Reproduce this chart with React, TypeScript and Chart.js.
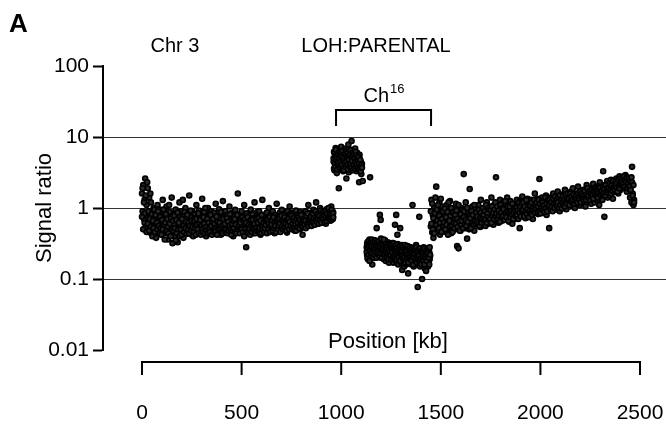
import React, { useEffect, useRef } from "react";
import { Chart, registerables } from "chart.js";
Chart.register(...registerables);

const FONT = '"Liberation Sans", Arial, Helvetica, sans-serif';

const yTickValues = [0.01, 0.1, 1, 10, 100];
const yTickLabels = ["0.01", "0.1", "1", "10", "100"];
const yGridValues = [0.1, 1, 10];
const xTickValues = [0, 500, 1000, 1500, 2000, 2500];
const xTickLabels = ["0", "500", "1000", "1500", "2000", "2500"];
const bracketRange = [974, 1451];

// Segment 1: 0 - 960 kb (two probe sets per position)
const seg1Pos = [
  0,3,6,10,13,16,19,23,26,29,
  32,36,39,42,45,49,52,55,58,62,
  65,68,71,75,78,81,84,88,91,94,
  97,101,104,107,110,114,117,120,123,127,
  130,133,136,140,143,146,149,153,156,159,
  162,166,169,172,175,179,182,185,188,192,
  195,198,201,205,208,211,214,218,221,224,
  227,231,234,237,240,244,247,250,253,257,
  260,263,266,270,273,276,279,283,286,289,
  292,296,299,302,305,309,312,315,318,322,
  325,328,331,335,338,341,344,348,351,354,
  357,361,364,367,370,374,377,380,383,387,
  390,393,396,400,403,406,409,413,416,419,
  422,426,429,432,435,439,442,445,448,452,
  455,458,461,465,468,471,474,478,481,484,
  487,491,494,497,500,504,507,510,513,517,
  520,523,526,530,533,536,539,543,546,549,
  552,556,559,562,565,569,572,575,578,582,
  585,588,591,595,598,601,604,608,611,614,
  617,621,624,627,630,634,637,640,643,647,
  650,653,656,660,663,666,669,673,676,679,
  682,686,689,692,695,699,702,705,708,712,
  715,718,721,725,728,731,734,738,741,744,
  747,751,754,757,760,764,767,770,773,777,
  780,783,786,790,793,796,799,803,806,809,
  812,816,819,822,825,829,832,835,838,842,
  845,848,851,855,858,861,864,868,871,874,
  877,881,884,887,890,894,897,900,903,907,
  910,913,916,920,923,926,929,933,936,939,
  942,944,946,948,950,952,954,956,958,960,
];
const seg1ValA = [
  1.6,0.9,2.1,0.7,1.3,2.6,0.55,1.1,0.8,1.9,
  0.6,1.4,0.45,0.75,1.2,0.5,0.9,0.65,1.0,0.42,
  0.7,0.55,0.85,0.6,1.1,0.5,0.72,0.95,0.48,0.66,
  0.8,0.58,1.3,0.62,0.44,0.9,0.7,0.52,1.05,0.6,
  0.36,0.75,0.5,0.88,0.65,0.46,1.4,0.7,0.55,0.82,
  0.6,0.4,0.95,0.52,0.7,0.33,0.8,0.58,1.2,0.47,
  0.68,0.9,0.5,0.62,0.38,0.78,0.55,1.0,0.45,0.72,
  0.6,0.85,0.48,1.5,0.66,0.52,0.74,0.42,0.9,0.58,
  0.7,0.5,0.82,0.62,1.1,0.46,0.76,0.55,0.92,0.64,
  0.5,0.8,0.6,1.35,0.7,0.45,0.88,0.56,0.68,0.4,
  0.75,0.58,1.0,0.5,0.82,0.64,0.47,0.9,0.6,0.72,
  0.55,0.86,0.44,0.7,1.15,0.6,0.5,0.78,0.66,0.96,
  0.52,0.7,0.42,0.84,0.6,1.25,0.56,0.74,0.48,0.9,
  0.65,0.5,0.8,0.58,0.72,1.05,0.46,0.68,0.55,0.86,
  0.62,0.4,0.76,0.52,0.94,0.6,0.7,0.48,1.6,0.64,
  0.8,0.55,0.68,0.45,0.9,0.6,0.74,0.5,1.1,0.58,
  0.7,0.28,0.84,0.56,0.66,0.46,0.78,0.62,0.95,0.52,
  0.6,0.82,0.44,0.7,1.2,0.56,0.74,0.5,0.88,0.64,
  0.54,0.9,0.62,0.42,0.76,0.58,1.3,0.66,0.5,0.8,
  0.6,0.72,0.46,0.86,0.56,0.68,1.0,0.52,0.78,0.62,
  0.7,0.5,0.9,0.58,0.66,0.44,0.8,0.6,1.15,0.55,
  0.74,0.62,0.48,0.86,0.68,0.56,0.94,0.6,0.72,0.5,
  0.66,0.82,0.55,0.7,0.45,0.9,0.62,0.76,1.05,0.58,
  0.7,0.52,0.86,0.64,0.6,0.78,0.48,0.72,0.92,0.56,
  0.68,0.8,0.58,0.74,0.5,0.88,0.64,0.7,0.42,0.82,
  0.62,0.76,0.54,0.9,0.66,0.72,0.6,1.1,0.56,0.8,
  0.7,0.62,0.86,0.74,0.58,0.94,0.68,0.8,0.64,1.2,
  0.72,0.6,0.88,0.76,0.66,1.0,0.7,0.84,0.62,0.78,
  0.9,0.68,0.74,0.82,0.6,0.96,0.72,0.86,0.7,0.8,
  0.76,0.92,0.66,0.84,1.05,0.72,0.8,0.9,0.7,0.86,
];
const seg1ValB = [
  0.75,1.9,0.5,1.2,0.62,0.85,1.5,0.46,2.3,0.6,
  0.9,0.48,0.7,1.6,0.55,0.82,0.4,0.66,0.52,0.95,
  0.46,0.8,0.38,0.62,0.5,0.9,0.56,0.44,0.75,0.52,
  0.42,0.68,0.5,0.95,0.58,0.36,0.62,0.82,0.47,0.7,
  0.55,0.44,1.1,0.6,0.4,0.72,0.5,0.32,0.66,0.48,
  0.78,0.52,0.35,0.68,0.44,0.86,0.5,0.62,0.4,0.74,
  0.5,0.42,0.7,1.3,0.56,0.46,0.88,0.52,0.64,0.43,
  0.8,0.5,0.62,0.44,0.56,0.92,0.48,0.66,0.54,0.4,
  0.46,0.66,0.52,0.42,0.7,0.58,0.5,0.84,0.44,0.6,
  0.68,0.42,0.56,0.5,0.46,0.74,0.6,0.44,1.0,0.54,
  0.48,0.7,0.44,0.62,0.52,0.46,0.8,0.56,0.42,0.64,
  0.7,0.46,0.6,0.52,0.48,0.76,0.42,0.64,0.5,0.58,
  0.62,0.5,0.88,0.46,0.56,0.44,0.7,0.52,0.6,0.46,
  0.5,0.72,0.44,0.64,0.48,0.56,0.82,0.5,0.42,0.6,
  0.48,0.66,0.52,0.7,0.46,0.58,0.44,0.8,0.5,0.54,
  0.56,0.44,0.62,0.52,0.5,0.74,0.46,0.66,0.4,0.7,
  0.5,0.62,0.46,0.74,0.44,0.58,0.52,0.42,0.68,0.56,
  0.46,0.68,0.56,0.5,0.6,0.44,0.52,0.7,0.48,0.62,
  0.72,0.48,0.52,0.66,0.44,0.8,0.5,0.56,0.62,0.46,
  0.52,0.58,0.66,0.44,0.7,0.5,0.6,0.74,0.46,0.56,
  0.58,0.68,0.48,0.74,0.52,0.62,0.56,0.46,0.66,0.7,
  0.5,0.56,0.72,0.6,0.46,0.78,0.54,0.66,0.5,0.62,
  0.74,0.52,0.6,0.48,0.68,0.56,0.7,0.5,0.64,0.82,
  0.56,0.78,0.5,0.6,0.72,0.52,0.66,0.58,0.48,0.7,
  0.54,0.62,0.74,0.52,0.68,0.58,0.8,0.56,0.66,0.6,
  0.7,0.58,0.66,0.52,0.78,0.6,0.84,0.56,0.68,0.64,
  0.6,0.76,0.56,0.66,0.82,0.62,0.72,0.58,0.9,0.68,
  0.64,0.82,0.7,0.6,0.78,0.68,0.92,0.62,0.74,0.86,
  0.7,0.8,0.64,0.9,0.76,0.66,0.84,0.72,1.0,0.74,
  0.82,0.7,0.88,0.76,0.68,0.94,0.78,0.72,0.84,0.74,
];

// Segment 2: gained region ~960 - 1150 kb
const seg2Pos = [
  962,964,966,968,970,972,974,976,978,980,
  982,984,986,988,990,992,994,996,998,1000,
  1002,1004,1006,1008,1010,1012,1014,1016,1018,1020,
  1022,1024,1026,1028,1030,1032,1034,1036,1038,1040,
  1042,1044,1046,1048,1050,1052,1054,1056,1058,1060,
  1062,1064,1066,1068,1070,1072,1074,1076,1078,1080,
  1082,1084,1086,1088,1090,1092,1095,1098,1101,1104,
];
const seg2ValA = [
  4.5,6.2,3.4,5.1,3.9,7.0,4.2,5.6,3.1,4.8,
  6.6,3.7,5.3,1.9,4.4,6.0,3.5,5.0,4.1,7.3,
  3.8,5.5,4.6,6.4,3.3,4.9,5.8,4.0,6.8,3.6,
  5.2,4.3,2.6,6.1,3.9,5.7,4.7,7.8,3.2,5.4,
  4.5,6.5,3.7,5.0,4.2,8.8,3.4,5.9,4.0,6.3,
  4.8,3.6,5.5,4.4,6.9,3.8,5.1,4.6,3.3,6.0,
  4.1,5.3,3.5,4.9,2.3,5.6,3.9,4.5,3.0,4.2,
];
const seg2ValB = [
  5.0,3.6,6.0,4.2,5.4,3.8,6.6,4.7,5.2,3.5,
  4.3,5.8,4.0,5.1,6.2,3.7,5.5,4.4,6.0,3.9,
  5.3,4.1,6.3,3.6,5.0,4.6,3.4,5.7,4.3,5.9,
  3.8,6.4,4.5,5.2,4.0,6.1,3.5,5.4,4.8,6.7,
  3.9,5.6,4.2,6.5,3.7,5.1,4.6,6.0,3.4,5.3,
  4.0,5.8,3.6,5.0,4.4,6.2,3.8,5.5,4.1,4.9,
  3.6,4.6,5.2,3.8,4.3,3.5,4.8,3.3,4.0,3.7,
];
const seg2OutPos = [1108, 1145];
const seg2OutVal = [2.4, 2.7];

// Segment 3: loss region ~1128 - 1446 kb
const seg3Pos = [
  1128,1130,1132,1134,1136,1138,1140,1142,1144,1146,
  1148,1150,1152,1154,1156,1158,1160,1162,1164,1166,
  1168,1170,1172,1174,1176,1178,1180,1182,1184,1186,
  1188,1190,1192,1194,1196,1198,1200,1202,1204,1206,
  1208,1210,1212,1214,1216,1218,1220,1222,1224,1226,
  1228,1230,1232,1234,1236,1238,1240,1242,1244,1246,
  1248,1250,1252,1254,1256,1258,1260,1262,1264,1266,
  1268,1270,1272,1274,1276,1278,1280,1282,1284,1286,
  1288,1290,1292,1294,1296,1298,1300,1302,1304,1306,
  1308,1310,1312,1314,1316,1318,1320,1322,1324,1326,
  1328,1330,1332,1334,1336,1338,1340,1342,1344,1346,
  1348,1350,1352,1354,1356,1358,1360,1362,1364,1366,
  1368,1370,1372,1374,1376,1378,1380,1382,1384,1386,
  1388,1390,1392,1394,1396,1398,1400,1402,1404,1406,
  1408,1410,1412,1414,1416,1418,1420,1422,1424,1426,
  1428,1430,1432,1434,1436,1438,1440,1442,1444,1446,
];
const seg3ValA = [
  0.28,0.22,0.33,0.19,0.26,0.3,0.24,0.36,0.21,0.29,
  0.25,0.32,0.2,0.27,0.16,0.31,0.23,0.28,0.35,0.22,
  0.3,0.26,0.2,0.34,0.24,0.52,0.28,0.21,0.31,0.25,
  0.27,0.22,0.33,0.8,0.26,0.68,0.2,0.3,0.24,0.28,
  0.21,0.32,0.25,0.19,0.29,0.23,0.35,0.26,0.18,0.3,
  0.24,0.28,0.2,0.33,0.22,0.27,0.17,0.31,0.25,0.21,
  0.29,0.23,0.26,0.19,0.32,0.22,0.28,0.17,0.25,0.3,
  0.21,0.58,0.24,0.18,0.8,0.27,0.2,0.42,0.23,0.16,
  0.26,0.19,0.3,0.22,0.52,0.25,0.17,0.28,0.2,0.134,
  0.24,0.18,0.27,0.21,0.15,0.29,0.22,0.19,0.25,0.16,
  0.23,0.27,0.18,0.21,0.12,0.26,0.2,0.17,0.24,0.19,
  0.22,0.28,0.16,0.25,0.2,1.1,0.18,0.23,0.15,0.27,
  0.21,0.17,0.24,0.19,0.3,0.16,0.22,0.2,0.077,0.25,
  0.18,0.23,0.75,0.21,0.15,0.26,0.19,0.22,0.17,0.1,
  0.24,0.2,0.16,0.28,0.18,0.22,0.14,0.25,0.19,0.21,
  0.17,0.23,0.2,0.26,0.15,0.22,0.18,0.24,0.19,0.21,
];
const seg3ValB = [
  0.24,0.31,0.2,0.27,0.34,0.22,0.29,0.18,0.32,0.25,
  0.3,0.21,0.28,0.36,0.23,0.26,0.33,0.2,0.27,0.3,
  0.22,0.35,0.27,0.24,0.3,0.2,0.33,0.26,0.23,0.29,
  0.34,0.25,0.21,0.28,0.31,0.23,0.37,0.26,0.2,0.32,
  0.27,0.23,0.3,0.36,0.22,0.26,0.2,0.31,0.28,0.24,
  0.29,0.2,0.26,0.23,0.31,0.19,0.27,0.22,0.3,0.25,
  0.22,0.28,0.19,0.3,0.24,0.27,0.2,0.32,0.21,0.26,
  0.27,0.2,0.3,0.25,0.22,0.19,0.28,0.24,0.31,0.21,
  0.2,0.26,0.23,0.29,0.18,0.24,0.27,0.21,0.25,0.3,
  0.28,0.22,0.19,0.26,0.24,0.2,0.3,0.17,0.23,0.27,
  0.19,0.25,0.22,0.29,0.2,0.17,0.26,0.23,0.2,0.28,
  0.25,0.19,0.23,0.18,0.27,0.21,0.24,0.16,0.26,0.2,
  0.23,0.27,0.18,0.25,0.2,0.28,0.17,0.24,0.21,0.19,
  0.26,0.2,0.22,0.17,0.27,0.19,0.24,0.16,0.25,0.21,
  0.19,0.26,0.23,0.18,0.25,0.16,0.27,0.2,0.22,0.13,
  0.24,0.18,0.26,0.21,0.23,0.27,0.2,0.16,0.28,0.22,
];

// Segment 4: 1450 - 2470 kb
const seg4Pos = [
  1450,1453,1457,1460,1463,1467,1470,1473,1477,1480,
  1483,1486,1490,1493,1496,1500,1503,1506,1510,1513,
  1516,1519,1523,1526,1529,1533,1536,1539,1543,1546,
  1549,1552,1556,1559,1562,1566,1569,1572,1576,1579,
  1582,1585,1589,1592,1595,1599,1602,1605,1609,1612,
  1615,1618,1622,1625,1628,1632,1635,1638,1642,1645,
  1648,1651,1655,1658,1661,1665,1668,1671,1675,1678,
  1681,1684,1688,1691,1694,1698,1701,1704,1708,1711,
  1714,1717,1721,1724,1727,1731,1734,1737,1741,1744,
  1747,1750,1754,1757,1760,1764,1767,1770,1774,1777,
  1780,1783,1787,1790,1793,1797,1800,1803,1807,1810,
  1813,1816,1820,1823,1826,1830,1833,1836,1840,1843,
  1846,1849,1853,1856,1859,1863,1866,1869,1873,1876,
  1879,1882,1886,1889,1892,1896,1899,1902,1906,1909,
  1912,1915,1919,1922,1925,1929,1932,1935,1939,1942,
  1945,1948,1952,1955,1958,1962,1965,1968,1972,1975,
  1978,1981,1985,1988,1991,1995,1998,2001,2005,2008,
  2011,2014,2018,2021,2024,2028,2031,2034,2038,2041,
  2044,2047,2051,2054,2057,2061,2064,2067,2071,2074,
  2077,2080,2084,2087,2090,2094,2097,2100,2104,2107,
  2110,2113,2117,2120,2123,2127,2130,2133,2137,2140,
  2143,2146,2150,2153,2156,2160,2163,2166,2170,2173,
  2176,2179,2183,2186,2189,2193,2196,2199,2203,2206,
  2209,2212,2216,2219,2222,2226,2229,2232,2236,2239,
  2242,2245,2249,2252,2255,2259,2262,2265,2269,2272,
  2275,2278,2282,2285,2288,2292,2295,2298,2302,2305,
  2308,2311,2315,2318,2321,2325,2328,2331,2335,2338,
  2341,2344,2348,2351,2354,2358,2361,2364,2368,2371,
  2374,2377,2381,2384,2387,2391,2394,2397,2401,2404,
  2407,2410,2414,2417,2420,2424,2427,2430,2434,2437,
  2440,2443,2447,2450,2453,2457,2460,2463,2467,2470,
];
const seg4ValA = [
  0.55,1.3,0.45,0.8,0.38,1.0,0.62,0.5,2.0,0.7,
  0.48,0.9,0.6,1.2,0.42,0.75,0.56,1.05,0.65,0.5,
  0.85,0.58,0.7,0.46,1.1,0.62,0.9,0.52,0.78,1.25,
  0.6,0.44,0.82,0.68,0.54,0.95,0.72,0.5,1.15,0.64,
  0.29,0.8,0.27,0.6,0.9,0.48,0.74,1.0,0.58,0.85,
  3.0,0.66,0.52,1.2,0.78,0.37,0.92,0.62,0.7,1.85,
  0.56,0.84,0.68,1.05,0.6,0.76,0.48,0.95,0.72,0.64,
  0.88,0.58,1.1,0.7,0.8,0.54,1.3,0.66,0.92,0.75,
  0.62,1.0,0.78,0.56,0.86,1.2,0.7,0.94,0.6,1.05,
  0.82,0.66,1.4,0.74,0.9,0.58,1.1,0.8,0.68,2.7,
  0.96,0.72,1.15,0.62,0.88,1.3,0.76,1.0,0.66,0.9,
  1.2,0.8,0.94,0.7,1.1,0.86,1.4,0.76,0.98,0.64,
  0.9,1.25,0.78,1.05,0.6,0.95,1.15,0.82,0.7,1.0,
  0.88,1.3,0.74,1.1,0.96,0.52,1.2,0.84,1.0,1.45,
  0.8,1.05,0.9,1.25,0.72,1.1,0.98,1.35,0.86,1.0,
  1.15,0.78,1.3,0.92,1.05,0.7,1.2,0.96,1.6,0.88,
  1.1,0.94,1.35,0.82,1.2,2.56,1.0,1.25,0.9,1.4,
  1.05,0.86,1.3,1.12,0.96,1.5,0.8,1.2,1.0,1.35,
  0.52,1.15,1.4,0.92,1.25,1.05,1.6,0.98,1.3,1.1,
  1.45,0.95,1.2,1.7,1.05,1.35,0.9,1.25,1.55,1.1,
  1.3,1.0,1.5,1.15,1.8,1.22,0.96,1.4,1.1,1.6,
  1.2,1.45,1.05,1.7,1.3,1.15,1.9,1.25,1.5,1.0,
  1.35,1.6,1.15,1.4,2.0,1.25,1.5,1.1,1.75,1.3,
  1.45,1.2,1.8,1.35,1.6,1.05,1.5,2.1,1.3,1.7,
  1.25,1.55,1.4,1.9,1.15,1.65,1.35,2.2,1.5,1.2,
  1.7,1.4,2.0,1.3,1.85,1.55,1.1,2.3,1.6,1.45,
  1.9,1.3,3.3,1.75,0.75,2.1,1.5,1.8,2.4,1.4,
  1.65,2.2,1.5,1.9,2.5,1.6,2.0,1.35,2.3,1.8,
  2.1,1.7,2.6,1.9,2.4,1.6,2.2,2.8,1.8,2.5,
  2.0,2.7,2.3,1.9,2.6,2.1,2.9,2.4,1.7,2.2,
  2.5,1.9,2.3,1.4,2.0,1.2,3.8,1.6,1.1,1.3,
];
const seg4ValB = [
  0.9,0.6,1.15,0.5,0.72,0.44,0.85,1.4,0.58,0.95,
  0.66,1.1,0.52,0.78,0.62,1.35,0.46,0.7,0.9,0.56,
  0.62,0.98,0.5,0.74,0.58,0.88,0.42,1.2,0.66,0.55,
  0.78,1.0,0.56,0.46,0.86,0.62,0.52,0.8,0.6,0.92,
  0.7,0.54,1.1,0.64,0.48,0.82,0.58,0.66,0.94,0.52,
  0.74,0.9,0.6,0.68,0.56,1.0,0.64,0.84,0.5,0.78,
  0.72,0.52,0.9,0.62,0.8,0.58,1.1,0.66,0.6,0.86,
  0.64,0.76,0.6,0.94,0.56,0.72,0.86,0.62,0.7,1.0,
  0.8,0.66,0.9,0.7,1.1,0.62,0.84,0.74,1.0,0.68,
  0.7,0.94,0.62,1.05,0.78,0.86,0.7,0.96,1.2,0.76,
  0.84,1.05,0.7,0.92,0.78,0.64,1.1,0.86,0.74,1.0,
  0.78,0.96,0.68,1.25,0.84,0.74,0.9,1.05,0.66,0.88,
  1.05,0.74,0.9,0.82,1.15,0.7,0.86,1.0,0.94,0.78,
  1.0,0.8,0.92,0.7,1.2,0.86,1.05,0.76,1.15,0.9,
  0.94,1.2,0.76,1.05,0.88,1.3,0.82,0.96,1.1,0.74,
  0.9,1.1,0.84,1.2,0.8,1.0,0.92,1.3,0.86,1.05,
  0.96,1.2,0.88,1.05,1.3,0.9,1.15,0.84,1.0,1.25,
  1.2,0.94,1.1,0.88,1.4,1.0,1.15,0.9,1.3,1.05,
  1.1,1.3,0.96,1.2,1.05,0.9,1.35,1.15,1.0,1.45,
  1.15,1.3,1.05,1.2,1.4,1.0,1.5,1.1,1.3,0.98,
  1.2,1.45,1.1,1.3,1.05,1.55,1.25,1.15,1.6,1.3,
  1.35,1.1,1.6,1.25,1.45,1.2,1.3,1.55,1.15,1.4,
  1.25,1.5,1.35,1.2,1.6,1.4,1.3,1.7,1.2,1.55,
  1.6,1.35,1.5,1.25,1.75,1.45,1.3,1.55,1.9,1.4,
  1.5,1.7,1.3,1.6,1.45,1.8,1.55,1.35,1.7,1.9,
  1.55,1.8,1.5,1.7,1.4,2.0,1.65,1.9,1.5,1.75,
  1.7,1.55,2.0,1.6,1.85,1.5,2.1,1.65,1.9,1.75,
  1.9,1.7,2.2,1.8,1.6,2.1,1.75,2.4,1.9,2.0,
  1.8,2.3,2.0,2.2,1.7,2.5,2.05,1.9,2.6,2.1,
  2.4,2.1,2.6,2.2,2.8,2.0,2.5,2.3,2.7,1.9,
  2.2,2.6,2.0,2.4,1.8,2.7,2.3,1.5,2.1,1.2,
];

const pairs = (pos: number[], val: number[]) => pos.map((x, i) => ({ x, y: val[i] }));

const overlayPlugin = {
  id: "overlay",
  afterDraw(chart: any) {
    const ctx = chart.ctx;
    const xs = chart.scales.x;
    ctx.save();
    ctx.fillStyle = "#000";
    ctx.strokeStyle = "#000";

    ctx.font = `bold 26px ${FONT}`;
    ctx.textAlign = "left";
    ctx.textBaseline = "alphabetic";
    ctx.fillText("A", 9, 32);

    ctx.font = `20px ${FONT}`;
    ctx.textAlign = "center";
    ctx.fillText("Chr 3", 175, 52);
    ctx.fillText("LOH:PARENTAL", 376, 52);

    ctx.save();
    ctx.translate(45, 208);
    ctx.rotate(-Math.PI / 2);
    ctx.textAlign = "center";
    ctx.textBaseline = "middle";
    ctx.font = `22px ${FONT}`;
    ctx.fillText("Signal ratio", 0, 0);
    ctx.restore();

    const bx1 = xs.getPixelForValue(bracketRange[0]);
    const bx2 = xs.getPixelForValue(bracketRange[1]);
    ctx.lineWidth = 2;
    ctx.beginPath();
    ctx.moveTo(bx1, 126);
    ctx.lineTo(bx1, 110);
    ctx.lineTo(bx2, 110);
    ctx.lineTo(bx2, 126);
    ctx.stroke();
    ctx.textAlign = "left";
    ctx.textBaseline = "alphabetic";
    ctx.font = `20px ${FONT}`;
    const chW = ctx.measureText("Ch").width;
    ctx.font = `13px ${FONT}`;
    const supW = ctx.measureText("16").width;
    const cx = (bx1 + bx2) / 2;
    const startX = cx - (chW + supW) / 2;
    ctx.font = `20px ${FONT}`;
    ctx.fillText("Ch", startX, 102);
    ctx.font = `13px ${FONT}`;
    ctx.fillText("16", startX + chW + 1, 93);

    const xa = xs.getPixelForValue(xTickValues[0]);
    const xb = xs.getPixelForValue(xTickValues[xTickValues.length - 1]);
    const yAxis = 362;
    ctx.lineWidth = 2;
    ctx.beginPath();
    ctx.moveTo(xa, yAxis);
    ctx.lineTo(xb, yAxis);
    ctx.stroke();
    ctx.font = `21px ${FONT}`;
    ctx.textAlign = "center";
    xTickValues.forEach((v, i) => {
      const px = xs.getPixelForValue(v);
      ctx.beginPath();
      ctx.moveTo(px, yAxis - 1);
      ctx.lineTo(px, yAxis + 13);
      ctx.stroke();
      ctx.fillText(xTickLabels[i], px, 419);
    });
    ctx.font = `22px ${FONT}`;
    ctx.fillText("Position [kb]", 388, 348);
    ctx.restore();
  },
};

export default function App() {
  const ref = useRef<HTMLCanvasElement | null>(null);
  useEffect(() => {
    if (!ref.current) return;
    const data = [
      ...pairs(seg1Pos, seg1ValA),
      ...pairs(seg1Pos, seg1ValB),
      ...pairs(seg2Pos, seg2ValA),
      ...pairs(seg2Pos, seg2ValB),
      ...pairs(seg2OutPos, seg2OutVal),
      ...pairs(seg3Pos, seg3ValA),
      ...pairs(seg3Pos, seg3ValB),
      ...pairs(seg4Pos, seg4ValA),
      ...pairs(seg4Pos, seg4ValB),
    ];
    const chart = new Chart(ref.current, {
      type: "scatter",
      data: {
        datasets: [
          {
            data,
            pointRadius: 2.5,
            pointBorderWidth: 1.6,
            pointBorderColor: "#000",
            pointBackgroundColor: "#2a2a2a",
          },
        ],
      },
      plugins: [overlayPlugin],
      options: {
        animation: false,
        responsive: false,
        devicePixelRatio: 1,
        layout: { autoPadding: false, padding: { top: 66, right: 0, bottom: 82, left: 0 } },
        plugins: { legend: { display: false }, tooltip: { enabled: false } },
        scales: {
          x: {
            type: "linear",
            display: false,
            min: -195.8,
            max: 2630.4,
          },
          y: {
            type: "logarithmic",
            min: 0.01,
            max: 100,
            afterBuildTicks: (scale: any) => {
              scale.ticks = yTickValues.map((v) => ({ value: v }));
            },
            afterFit: (scale: any) => {
              scale.width = 103;
            },
            ticks: {
              autoSkip: false,
              padding: 4,
              color: "#000",
              font: { family: FONT, size: 21 },
              callback: (v: any) => {
                const idx = yTickValues.indexOf(Number(v));
                return idx >= 0 ? yTickLabels[idx] : "";
              },
            },
            grid: {
              drawOnChartArea: true,
              drawTicks: true,
              tickLength: 10,
              tickWidth: 2,
              tickColor: "#000",
              lineWidth: 1,
              color: (c: any) =>
                c.tick && yGridValues.includes(c.tick.value) ? "#333" : "rgba(0,0,0,0)",
            },
            border: { display: true, color: "#000", width: 2 },
          },
        },
      },
    });
    return () => chart.destroy();
  }, []);
  return (
    <div style={{ position: "absolute", left: 0, top: 0, width: 666, height: 432, background: "#fff" }}>
      <canvas ref={ref} width={666} height={432} />
    </div>
  );
}
